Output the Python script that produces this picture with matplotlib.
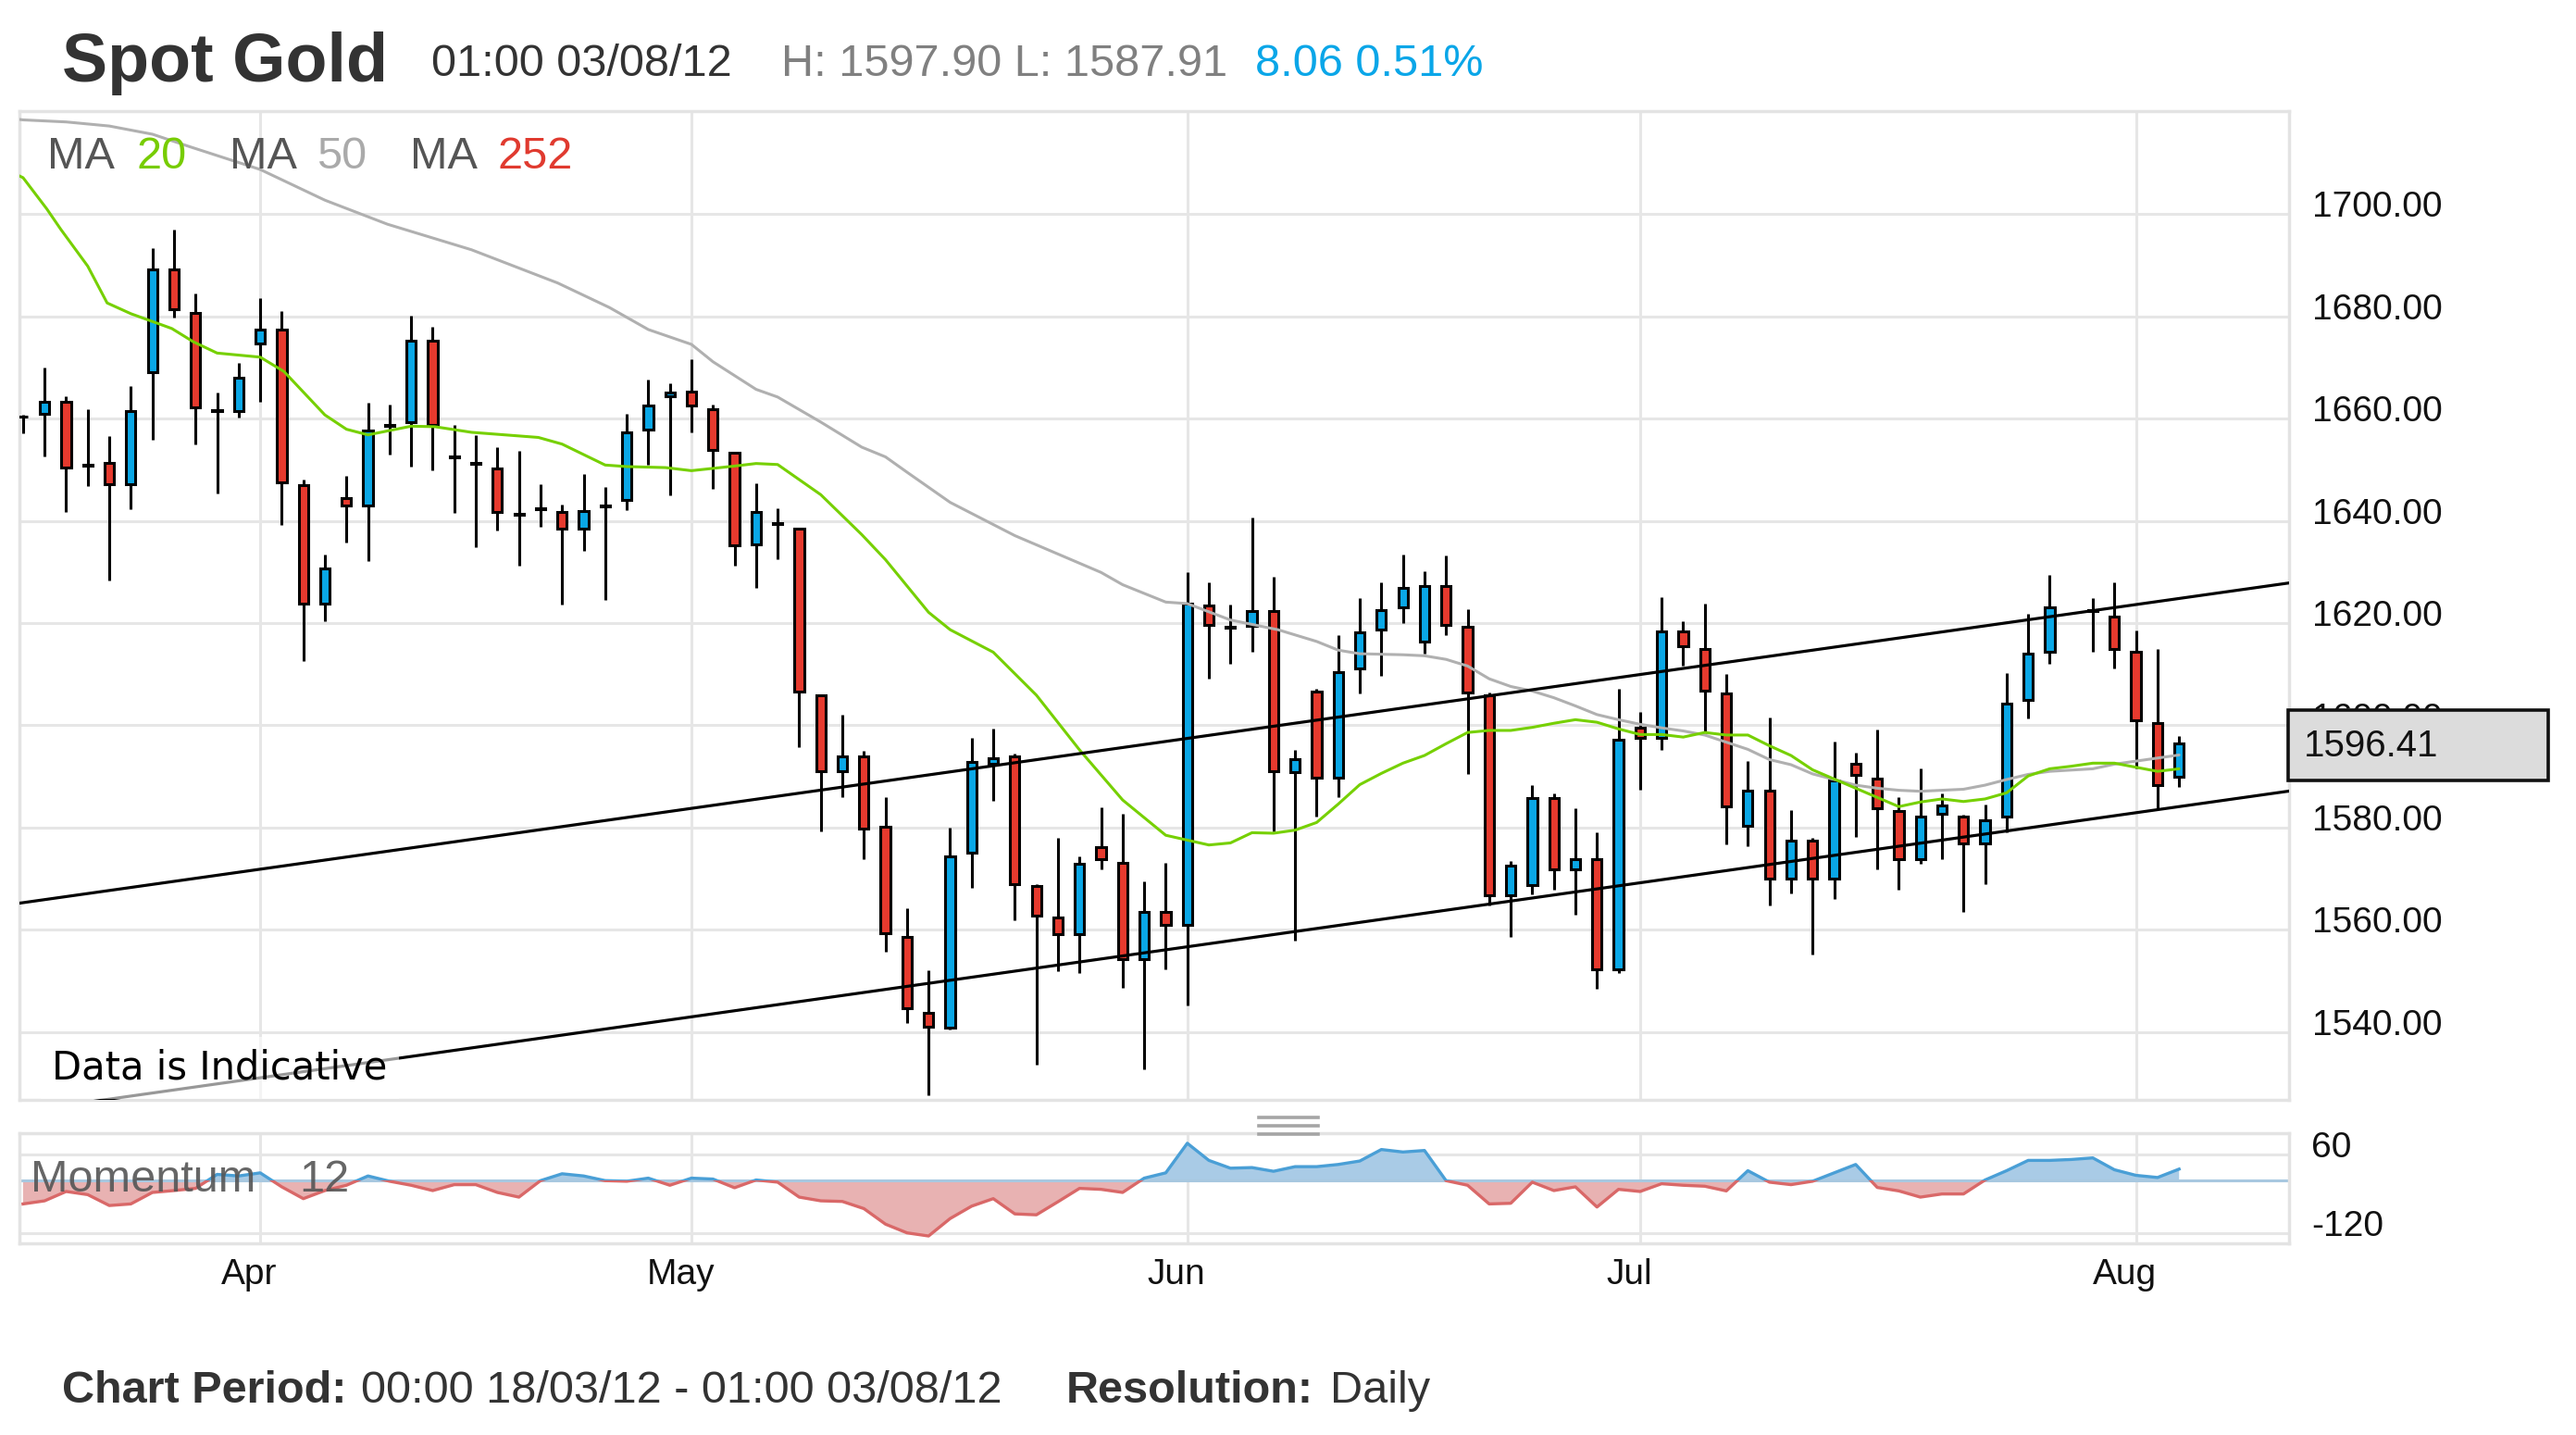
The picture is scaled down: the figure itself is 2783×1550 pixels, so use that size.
import numpy as np
import matplotlib
matplotlib.use("Agg")
import matplotlib.pyplot as plt
from matplotlib.patches import Rectangle
from matplotlib.lines import Line2D
import matplotlib.transforms as mtransforms

# ---------------- data ----------------
opens = [1660.3, 1660.9, 1663.3, 1651.0, 1651.3, 1647.1, 1669.1, 1689.1, 1680.6, 1661.7,
         1661.4, 1674.6, 1677.3, 1647.0, 1623.8, 1644.4, 1642.9, 1658.5, 1659.3, 1675.2,
         1652.6, 1651.4, 1650.2, 1641.4, 1642.4, 1641.7, 1638.5, 1643.0, 1644.0, 1657.9,
         1664.4, 1665.3, 1661.9, 1653.3, 1635.3, 1639.6, 1638.5, 1605.9, 1591.0, 1594.0,
         1580.2, 1558.7, 1543.7, 1540.8, 1575.1, 1592.4, 1594.0, 1568.5, 1562.4, 1559.2,
         1576.1, 1573.1, 1554.2, 1563.5, 1560.9, 1623.4, 1619.3, 1619.5, 1622.4, 1590.8,
         1606.6, 1589.8, 1611.1, 1618.8, 1623.1, 1616.4, 1627.3, 1619.3, 1605.9, 1566.7,
         1568.8, 1585.8, 1571.9, 1573.9, 1552.2, 1599.5, 1597.5, 1618.3, 1615.0, 1606.2,
         1580.3, 1587.3, 1570.0, 1577.5, 1570.1, 1592.4, 1589.5, 1583.2, 1573.9, 1582.7,
         1582.1, 1576.9, 1582.1, 1604.9, 1614.4, np.nan, 1622.5, 1621.2, 1614.4, 1600.5,
         1590.0]
highs = [1660.8, 1670.0, 1664.3, 1661.9, 1656.5, 1666.3, 1693.4, 1697.0, 1684.5, 1665.0,
         1670.9, 1683.5, 1681.1, 1648.0, 1633.4, 1648.8, 1663.0, 1662.8, 1680.1, 1677.9,
         1658.7, 1656.8, 1654.4, 1653.7, 1647.2, 1643.2, 1649.2, 1646.6, 1660.9, 1667.6,
         1666.8, 1671.6, 1662.7, 1653.5, 1647.3, 1642.5, 1638.7, 1606.1, 1602.0, 1595.0,
         1585.9, 1564.3, 1552.1, 1580.0, 1597.6, 1599.3, 1594.4, 1568.9, 1578.0, 1574.3,
         1583.9, 1582.7, 1569.5, 1573.1, 1629.9, 1628.0, 1623.6, 1640.7, 1629.0, 1595.2,
         1607.1, 1617.6, 1624.8, 1627.9, 1633.4, 1630.1, 1633.3, 1622.8, 1606.4, 1573.4,
         1588.4, 1586.7, 1583.7, 1579.1, 1607.1, 1602.6, 1625.0, 1620.4, 1623.8, 1610.0,
         1593.1, 1601.6, 1583.4, 1578.0, 1596.8, 1594.7, 1599.2, 1585.9, 1591.6, 1586.7,
         1582.6, 1584.5, 1610.3, 1621.8, 1629.5, np.nan, 1624.8, 1627.9, 1618.5, 1615.0,
         1597.90]
lows = [1657.1, 1652.5, 1641.7, 1646.8, 1628.4, 1642.3, 1655.9, 1679.8, 1655.0, 1645.4,
        1660.1, 1663.3, 1639.2, 1612.5, 1620.3, 1635.8, 1632.2, 1653.0, 1650.6, 1649.8,
        1641.6, 1634.9, 1638.1, 1631.2, 1638.9, 1623.6, 1634.2, 1624.6, 1642.0, 1651.0,
        1645.0, 1657.3, 1646.2, 1631.3, 1626.8, 1632.4, 1595.7, 1579.3, 1585.9, 1573.9,
        1555.8, 1541.8, 1527.6, 1540.5, 1568.2, 1585.2, 1561.9, 1533.7, 1551.9, 1551.6,
        1571.9, 1548.6, 1532.8, 1552.3, 1545.2, 1609.1, 1612.0, 1614.3, 1579.3, 1557.9,
        1582.1, 1586.0, 1606.2, 1609.6, 1620.0, 1614.0, 1617.6, 1590.5, 1564.8, 1558.6,
        1566.9, 1567.9, 1563.0, 1548.4, 1551.5, 1587.4, 1595.2, 1611.6, 1598.8, 1576.7,
        1576.3, 1564.8, 1567.2, 1555.2, 1566.1, 1578.1, 1571.8, 1567.8, 1573.0, 1573.9,
        1563.5, 1569.0, 1579.1, 1601.4, 1612.0, np.nan, 1614.4, 1611.1, 1591.6, 1583.8,
        1587.91]
closes = [1660.4, 1663.3, 1650.4, 1650.8, 1647.1, 1661.4, 1689.1, 1681.4, 1662.2, 1661.5,
          1668.0, 1677.3, 1647.6, 1623.8, 1630.7, 1642.9, 1657.7, 1658.7, 1675.2, 1658.8,
          1652.4, 1651.2, 1641.7, 1641.2, 1642.2, 1638.5, 1641.9, 1642.8, 1657.3, 1662.5,
          1665.1, 1662.6, 1653.8, 1635.2, 1641.7, 1639.4, 1606.6, 1591.0, 1594.0, 1579.8,
          1559.4, 1544.7, 1541.0, 1574.3, 1592.9, 1593.6, 1569.0, 1562.8, 1559.2, 1572.9,
          1573.8, 1554.2, 1563.5, 1560.9, 1623.8, 1619.6, 1619.1, 1622.4, 1591.1, 1593.3,
          1589.8, 1610.4, 1618.1, 1622.6, 1626.9, 1627.3, 1619.7, 1606.5, 1566.7, 1572.5,
          1585.8, 1571.9, 1573.8, 1552.2, 1597.2, 1597.5, 1618.3, 1615.4, 1606.7, 1584.1,
          1587.3, 1570.0, 1577.5, 1570.1, 1589.2, 1590.3, 1583.8, 1573.9, 1582.1, 1584.3,
          1576.9, 1581.5, 1604.3, 1614.0, 1623.1, np.nan, 1622.3, 1614.9, 1601.0, 1588.35,
          1596.41]

momentum = [-53.8, -46.7, -25.3, -32.5, -57.4, -53.8, -27.5, -23.2, -18.2, 13.8,
            10.2, 17.3, -14.7, -41.7, -23.2, -11.1, 10.2, -1.9, -11.1, -23.2,
            -9.7, -9.7, -27.5, -38.2, -0.5, 15.2, 10.2, -0.5, -1.9, 5.2,
            -11.1, 5.2, 3.1, -16.8, 1.0, -4.0, -38.2, -46.7, -48.1, -64.5,
            -100.0, -120.0, -127.1, -87.2, -58.8, -41.7, -76.6, -78.7, -48.8, -18.2,
            -20.4, -27.5, 5.2, 17.3, 85.0, 45.8, 28.0, 29.4, 20.9, 31.5,
            31.5, 36.5, 44.4, 70.7, 65.0, 68.5, -0.5, -11.1, -53.8, -52.3,
            -4.0, -23.2, -14.7, -60.9, -20.4, -25.3, -7.6, -11.1, -13.3, -24.0,
            22.3, -4.0, -9.7, -1.9, 17.3, 36.5, -16.1, -24.0, -38.2, -31.0,
            -31.0, 1.0, 22.3, 45.8, 45.8, 47.9, 51.5, 24.4, 11.6, 6.7,
            25.9]

ma20_x = [-0.2, 0, 1.1, 1.75, 3, 3.9, 5, 6.9, 7.9, 9, 11, 12.1, 14, 15, 16, 18, 19.1, 20.8,
          23.9, 25, 27, 28, 29.8, 31, 33, 34, 35, 37, 38.9, 40, 42, 43, 45, 47, 49, 51, 53,
          55, 56, 57, 58, 59, 60, 61, 62, 63, 64, 65, 66, 67, 68, 69, 70, 71, 72, 73, 74, 75,
          76, 77, 78, 79, 80, 81, 82, 83, 84, 85, 86, 87, 88, 89, 90, 91, 92, 93, 94, 95, 96,
          97, 98, 99, 100]
ma20_y = [1707.5, 1707.1, 1701.0, 1697.0, 1689.8, 1682.6, 1680.5, 1677.6, 1675.0, 1672.8,
          1672.0, 1669.2, 1660.7, 1657.9, 1656.8, 1658.5, 1658.4, 1657.3, 1656.3, 1655.0,
          1650.9, 1650.6, 1650.4, 1649.8, 1650.7, 1651.2, 1651.0, 1645.1, 1637.3, 1632.4,
          1622.1, 1618.7, 1614.3, 1605.9, 1595.2, 1585.4, 1578.5, 1576.6, 1577.0, 1579.0,
          1578.9, 1579.5, 1581.0, 1584.6, 1588.4, 1590.6, 1592.6, 1594.1, 1596.4, 1598.6,
          1599.0, 1599.0, 1599.6, 1600.4, 1601.1, 1600.6, 1599.3, 1598.2, 1598.2, 1597.7,
          1598.6, 1598.1, 1598.1, 1596.0, 1594.1, 1591.3, 1589.5, 1587.7, 1585.9, 1584.1,
          1585.0, 1585.6, 1585.1, 1585.6, 1586.8, 1590.1, 1591.5, 1592.0, 1592.6, 1592.6,
          1591.8, 1591.0, 1591.5]

ma50_x = [-0.2, 0, 2, 4, 6, 7.7, 11, 14, 16.9, 20.8, 24.8, 27.2, 29, 31, 32, 34, 35, 37, 38.9,
          40, 41, 43, 46, 47, 50, 51, 53, 54, 56, 58.2, 60, 61, 62, 64, 65, 66, 67, 68, 69,
          70, 71, 72, 73, 74, 75, 76, 77, 78, 79, 80, 81, 82, 83, 84, 85, 86, 87, 88, 90, 91,
          92, 93, 94, 96, 97, 98, 99, 100]
ma50_y = [1718.5, 1718.4, 1718.0, 1717.2, 1715.6, 1713.2, 1708.7, 1702.7, 1698.0, 1693.0,
          1686.5, 1681.7, 1677.4, 1674.5, 1671.1, 1665.7, 1664.2, 1659.3, 1654.4, 1652.5,
          1649.5, 1643.6, 1637.1, 1635.3, 1629.9, 1627.5, 1624.1, 1623.8, 1620.6, 1618.7,
          1616.4, 1614.7, 1614.0, 1613.8, 1613.6, 1612.9, 1611.6, 1609.1, 1607.6, 1606.7,
          1605.4, 1603.8, 1602.1, 1601.1, 1600.2, 1599.5, 1598.9, 1598.1, 1596.7, 1595.3,
          1593.3, 1592.3, 1590.5, 1589.4, 1588.3, 1587.7, 1587.3, 1587.1, 1587.5, 1588.3,
          1589.4, 1590.4, 1591.0, 1591.5, 1592.4, 1593.0, 1593.6, 1594.2]

channel_upper = [(-0.2, 1565.2), (105.2, 1627.9)]
channel_lower = [(-0.2, 1524.4), (105.2, 1587.2)]

month_labels = ["Apr", "May", "Jun", "Jul", "Aug"]
month_index = [11, 31, 54, 75, 98]
price_ticks = [1540, 1560, 1580, 1600, 1620, 1640, 1660, 1680, 1700]
mom_ticks = [60, -120]
last_price = 1596.41

# ---------------- style ----------------
W, H = 2783, 1550
BLUE = "#0aa7e6"
RED = "#e63a2e"
GRID = "#e6e6e6"
FONT = "Liberation Sans"

def fx(px):
    return px / W

def fy(py):
    return 1 - py / H

fig = plt.figure(figsize=(W / 100, H / 100), dpi=100)
fig.patch.set_facecolor("white")

left, right = 21, 2473
ax = fig.add_axes([fx(left), fy(1188.3), fx(right - left), (1188.3 - 120.1) / H])
axm = fig.add_axes([fx(left), fy(1343.3), fx(right - left), (1343.3 - 1224.3) / H])

xlim = (-0.167, 105.1)
for a in (ax, axm):
    a.set_xlim(*xlim)
    a.set_xticks([])
    a.set_yticks([])
    for s in a.spines.values():
        s.set_color("#e3e3e3")
        s.set_linewidth(2.5)
    for mi in month_index:
        a.axvline(mi, color=GRID, lw=2.2, zorder=0)

ax.set_ylim(1526.7, 1720.1)
for p in price_ticks:
    ax.axhline(p, color=GRID, lw=2.2, zorder=0)

# candles
idx = np.arange(len(opens))
bw = 0.44
for i in idx:
    o, h, l, c = opens[i], highs[i], lows[i], closes[i]
    if np.isnan(o):
        continue
    ax.vlines(i, l, h, color="black", lw=2.2, zorder=3)
    col = BLUE if c >= o else RED
    bot = min(o, c)
    ht = max(abs(c - o), 0.05)
    ax.add_patch(Rectangle((i - bw / 2, bot), bw, ht, facecolor=col,
                           edgecolor="black", lw=2.2, zorder=4))

# moving averages
ax.plot(ma50_x, ma50_y, color="#b0b0b0", lw=2.2, zorder=5, solid_capstyle="round")
ax.plot(ma20_x, ma20_y, color="#76d000", lw=2.2, zorder=5, solid_capstyle="round")

# channel lines
for ch in (channel_upper, channel_lower):
    ax.plot([ch[0][0], ch[1][0]], [ch[0][1], ch[1][1]], color="black", lw=2.3, zorder=6)

# price labels
ptrans = mtransforms.blended_transform_factory(ax.transAxes, ax.transData) + \
    mtransforms.ScaledTranslation(0, 5 / 72, fig.dpi_scale_trans)
xlab = (2498 - left) / (right - left)
for p in price_ticks:
    ax.text(xlab, p, f"{p:.2f}", transform=ptrans, ha="left", va="center",
            fontsize=28, family=FONT, color="#111111", clip_on=False)

# MA legend
legend_parts = [("MA", 51, "#555555"), ("20", 147, "#77cc00"), ("MA", 248, "#555555"),
                ("50", 342, "#aaaaaa"), ("MA", 443, "#555555"), ("252", 537, "#e03a2f")]
for txt, xp, col in legend_parts:
    fig.text(fx(xp), fy(182), txt, fontsize=35, family=FONT, color=col, va="baseline", zorder=8)

# Data is Indicative
ax.text(fx(56), fy(1165), "Data is Indicative", transform=fig.transFigure, fontsize=30,
        family="DejaVu Sans", color="black", va="baseline", ha="left", zorder=7,
        bbox=dict(boxstyle="square,pad=0.3", facecolor="white", alpha=0.6, edgecolor="none"))

# momentum panel
mom = np.array(momentum)
axm.set_ylim(-144.6, 107.4)
for t in mom_ticks:
    axm.axhline(t, color=GRID, lw=2.2, zorder=0)
axm.fill_between(idx, mom, 0, where=mom >= 0, interpolate=True, color="#a9cbe6", lw=0, zorder=1)
axm.fill_between(idx, mom, 0, where=mom <= 0, interpolate=True, color="#e8b2b2", lw=0, zorder=1)
axm.axhline(0, color="#a8c8e0", lw=2.2, zorder=2)
lpos, = axm.plot(idx, mom, color="#4a9fd6", lw=2.4, zorder=3)
lneg, = axm.plot(idx, mom, color="#d96868", lw=2.4, zorder=3)
clip_pos = Rectangle((xlim[0], 0), xlim[1] - xlim[0], 200, transform=axm.transData)
clip_neg = Rectangle((xlim[0], -300), xlim[1] - xlim[0], 300, transform=axm.transData)
lpos.set_clip_path(clip_pos)
lneg.set_clip_path(clip_neg)

mtrans = mtransforms.blended_transform_factory(axm.transAxes, axm.transData) + \
    mtransforms.ScaledTranslation(0, 4.5 / 72, fig.dpi_scale_trans)
for t in mom_ticks:
    axm.text((2497 - left) / (right - left), t, f"{t}", transform=mtrans, ha="left",
             va="center", fontsize=28, family=FONT, color="#111111", clip_on=False)

fig.text(fx(33), fy(1287), "Momentum", fontsize=35, family=FONT, color="#555555",
         va="baseline", zorder=8, alpha=0.9)
fig.text(fx(323), fy(1287), "12", fontsize=35, family=FONT, color="#555555",
         va="baseline", zorder=8, alpha=0.9)

# month labels
mlt = mtransforms.blended_transform_factory(axm.transData, fig.transFigure)
for lab, mi in zip(month_labels, month_index):
    axm.text(mi - 0.5, fy(1377), lab, transform=mlt, ha="center", va="center",
             fontsize=28, family=FONT, color="#111111", clip_on=False)

# panel handle
for yy in (1207, 1216, 1225):
    fig.add_artist(Line2D([fx(1360), fx(1424)], [fy(yy), fy(yy)], color="#a5a5a5",
                          lw=2.6, zorder=9))

# last price box
fig.add_artist(Rectangle((fx(2471.8), fy(842.7)), fx(2752.7 - 2471.8), 76 / H,
                         facecolor="#dcdcdc", edgecolor="#111111", lw=2.6, zorder=10,
                         transform=fig.transFigure))
fig.text(fx(2489), fy(806), f"{last_price:.2f}", fontsize=29, family=FONT,
         color="#111111", va="center", ha="left", zorder=11)

# header
fig.text(fx(67), fy(88), "Spot Gold", fontsize=53, fontweight="bold", family=FONT,
         color="#333333", va="baseline")
fig.text(fx(466), fy(82), "01:00 03/08/12", fontsize=35, family=FONT, color="#333333",
         va="baseline")
fig.text(fx(844), fy(82), "H: 1597.90 L: 1587.91", fontsize=35, family=FONT,
         color="#808080", va="baseline")
fig.text(fx(1356), fy(82), "8.06 0.51%", fontsize=35, family=FONT, color="#0aa6e8",
         va="baseline")

# footer
fig.text(fx(67), fy(1515), "Chart Period:", fontsize=35, fontweight="bold", family=FONT,
         color="#333333", va="baseline")
fig.text(fx(390), fy(1515), "00:00 18/03/12 - 01:00 03/08/12", fontsize=35, family=FONT,
         color="#333333", va="baseline")
fig.text(fx(1152), fy(1515), "Resolution:", fontsize=35, fontweight="bold", family=FONT,
         color="#333333", va="baseline")
fig.text(fx(1437), fy(1515), "Daily", fontsize=35, family=FONT, color="#333333",
         va="baseline")

fig.savefig("out.png", dpi=100, facecolor="white")
